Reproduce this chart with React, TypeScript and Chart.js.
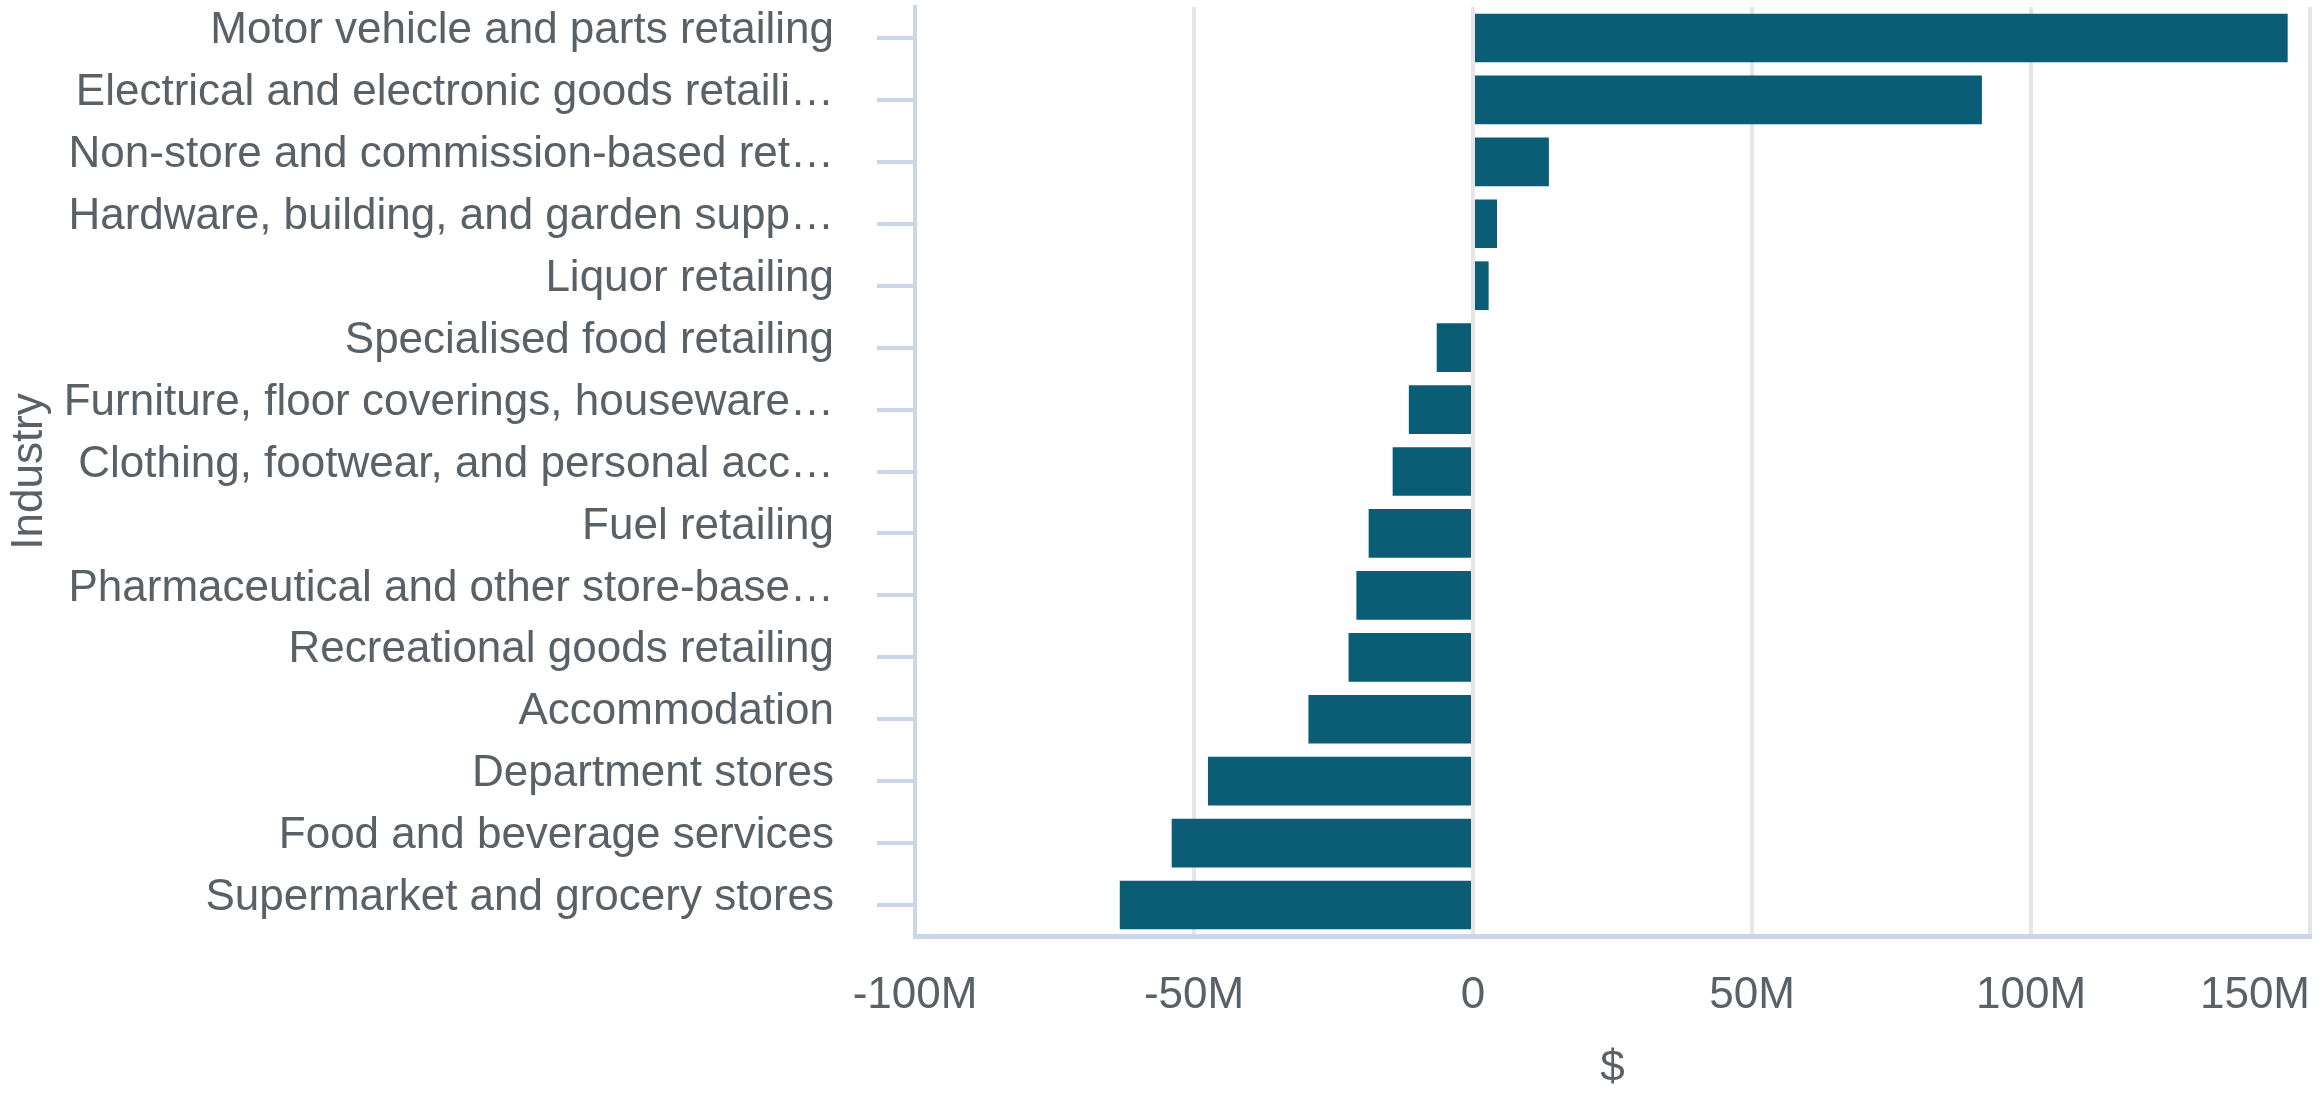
import React, { useEffect, useRef } from "react";
import { Chart, registerables } from "chart.js";

Chart.register(...registerables);

const categories: string[] = [
  "Motor vehicle and parts retailing",
  "Electrical and electronic goods retaili…",
  "Non-store and commission-based ret…",
  "Hardware, building, and garden supp…",
  "Liquor retailing",
  "Specialised food retailing",
  "Furniture, floor coverings, houseware…",
  "Clothing, footwear, and personal acc…",
  "Fuel retailing",
  "Pharmaceutical and other store-base…",
  "Recreational goods retailing",
  "Accommodation",
  "Department stores",
  "Food and beverage services",
  "Supermarket and grocery stores",
];

const values: number[] = [
  146.0e6, 91.2e6, 13.6e6, 4.3e6, 2.8e6, -6.5e6, -11.5e6, -14.4e6, -18.7e6,
  -20.9e6, -22.3e6, -29.5e6, -47.5e6, -54.0e6, -63.3e6,
];

const xTickLabels: string[] = ["-100M", "-50M", "0", "50M", "100M", "150M"];

const FONT = "'Liberation Sans', Arial, Helvetica, sans-serif";
const TEXT = "#596167";
const AXIS = "#ccd6eb";
const GRID = "#e6e6e6";
const BAR = "#0b5d76";

const lastTickAlign = {
  id: "lastTickAlign",
  beforeDraw(chart: any) {
    const sc = chart.scales.x;
    if (!sc || !sc.getLabelItems) return;
    const items = sc.getLabelItems();
    if (items && items.length) {
      items[items.length - 1].options.textAlign = "right";
    }
  },
};

export default function App() {
  const ref = useRef<HTMLCanvasElement | null>(null);

  useEffect(() => {
    if (!ref.current) return;
    const chart = new Chart(ref.current, {
      type: "bar",
      data: {
        labels: categories,
        datasets: [
          {
            data: values,
            backgroundColor: BAR,
            borderWidth: 0,
            barPercentage: 0.786,
            categoryPercentage: 1,
          },
        ],
      },
      options: {
        indexAxis: "y",
        animation: false,
        responsive: true,
        maintainAspectRatio: false,
        layout: { padding: { top: 7, right: 12, left: 0, bottom: 0 } },
        plugins: {
          legend: { display: false },
          tooltip: { enabled: false },
        },
        scales: {
          x: {
            type: "linear",
            min: -100e6,
            max: 150e6,
            afterFit: (s: any) => {
              s.height = 158;
              s.paddingRight = 0;
              s.paddingLeft = 0;
            },
            ticks: {
              stepSize: 50e6,
              padding: 33,
              color: TEXT,
              font: { family: FONT, size: 44, lineHeight: 1.2 },
              maxRotation: 0,
              callback: (_v: any, i: number) => xTickLabels[i],
            },
            grid: {
              color: (ctx: any) => (ctx.index === 0 ? "rgba(0,0,0,0)" : GRID),
              lineWidth: 4,
              drawTicks: false,
            },
            border: { color: AXIS, width: 5 },
            title: {
              display: true,
              text: "$",
              color: TEXT,
              font: { family: FONT, size: 44, lineHeight: 1 },
              padding: { top: 0, bottom: 3 },
            },
          },
          y: {
            type: "category",
            afterFit: (s: any) => {
              s.width = 915;
              s.paddingTop = 0;
              s.paddingBottom = 0;
            },
            ticks: {
              autoSkip: false,
              padding: 43,
              labelOffset: -7,
              color: TEXT,
              font: { family: FONT, size: 44, lineHeight: 1.2 },
            },
            grid: {
              drawOnChartArea: false,
              drawTicks: true,
              tickLength: 38,
              tickColor: AXIS,
              tickWidth: 4,
              lineWidth: 4,
              color: AXIS,
              offset: false,
            },
            border: { color: AXIS, width: 4 },
            title: {
              display: true,
              text: "Industry",
              color: TEXT,
              font: { family: FONT, size: 44, lineHeight: 1 },
              padding: { top: 8, bottom: 0 },
            },
          },
        },
      },
      plugins: [lastTickAlign],
    });
    return () => chart.destroy();
  }, []);

  return (
    <div style={{ position: "fixed", left: 0, top: 0, width: "100vw", height: "100vh" }}>
      <canvas ref={ref} />
    </div>
  );
}
